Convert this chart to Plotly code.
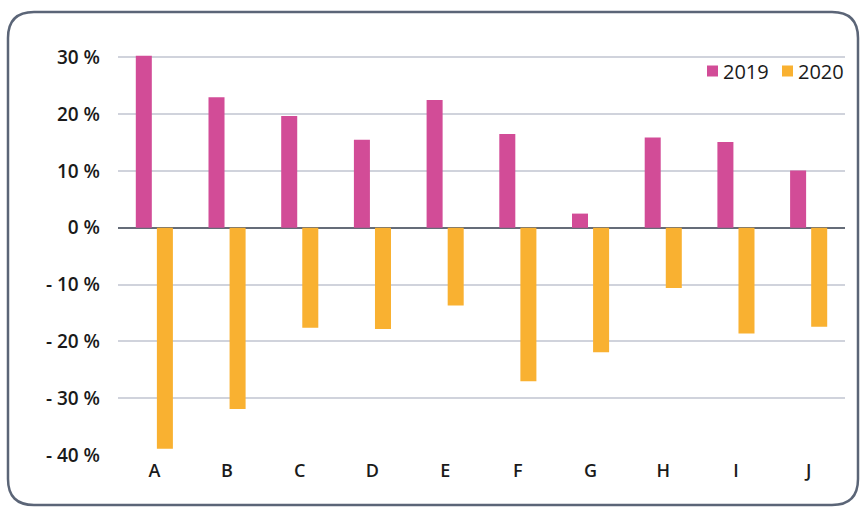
import plotly.graph_objects as go

# Annual change by category, in percent
categories = ["A", "B", "C", "D", "E", "F", "G", "H", "I", "J"]
change_2019 = [30.3, 23.0, 19.7, 15.5, 22.5, 16.5, 2.5, 15.9, 15.1, 10.1]
change_2020 = [-38.9, -31.9, -17.6, -17.8, -13.7, -27.0, -21.9, -10.6, -18.6, -17.4]
series_names = ["2019", "2020"]
series_colors = ["#d24c97", "#f9b131"]

tick_values = [30, 20, 10, 0, -10, -20, -30, -40]
tick_labels = ["30 %", "20 %", "10 %", "0 %", "- 10 %", "- 20 %", "- 30 %", "- 40 %"]

W, H = 864, 508
M_L, M_R, M_T, M_B = 118, 19, 54, 53
plot_w = W - M_L - M_R
plot_h = H - M_T - M_B


def px_to_paper(x, y):
    return (x - M_L) / plot_w, (H - M_B - y) / plot_h


def rounded_rect_path(x0, y0, x1, y1, r):
    pts = [
        ("M", [(x0 + r, y0)]),
        ("L", [(x1 - r, y0)]),
        ("Q", [(x1, y0), (x1, y0 + r)]),
        ("L", [(x1, y1 - r)]),
        ("Q", [(x1, y1), (x1 - r, y1)]),
        ("L", [(x0 + r, y1)]),
        ("Q", [(x0, y1), (x0, y1 - r)]),
        ("L", [(x0, y0 + r)]),
        ("Q", [(x0, y0), (x0 + r, y0)]),
    ]
    parts = []
    for cmd, coords in pts:
        s = " ".join("%.5f,%.5f" % px_to_paper(cx, cy) for cx, cy in coords)
        parts.append(cmd + " " + s)
    return " ".join(parts) + " Z"


fig = go.Figure()
for name, vals, col in zip(series_names, [change_2019, change_2020], series_colors):
    fig.add_trace(go.Bar(name=name, x=categories, y=vals, showlegend=False,
                         marker=dict(color=col, line=dict(width=0))))

# Compact legend: coloured square followed closely by the series name
shapes = [dict(
    type="path",
    xref="paper", yref="paper",
    path=rounded_rect_path(8, 12, 858, 505, 26),
    line=dict(color="#5b6577", width=2.5),
    fillcolor="rgba(0,0,0,0)",
    layer="above",
)]
annotations = []
legend_y = 71
for left, name, col in zip([707, 782], series_names, series_colors):
    sx0, sy0 = px_to_paper(left, legend_y + 5.5)
    sx1, sy1 = px_to_paper(left + 11, legend_y - 5.5)
    shapes.append(dict(type="rect", xref="paper", yref="paper",
                       x0=sx0, x1=sx1, y0=sy0, y1=sy1,
                       fillcolor=col, line=dict(width=0)))
    tx, ty = px_to_paper(left + 15, legend_y)
    annotations.append(dict(xref="paper", yref="paper", x=tx, y=ty,
                            xanchor="left", yanchor="middle", showarrow=False,
                            text=name, font=dict(size=20, color="#1a1a1a"),
                            borderpad=0))

fig.update_layout(
    width=W, height=H,
    margin=dict(l=M_L, r=M_R, t=M_T, b=M_B),
    paper_bgcolor="white",
    plot_bgcolor="white",
    barmode="group",
    bargap=0.42,
    bargroupgap=0.24,
    font=dict(family="Open Sans", color="#1a1a1a"),
    showlegend=False,
    xaxis=dict(
        showgrid=False,
        showline=False,
        ticks="",
        ticklabelstandoff=3,
        tickfont=dict(size=18, weight=600, color="#1a1a1a"),
    ),
    yaxis=dict(
        range=[-40, 30.6],
        tickvals=tick_values,
        ticktext=tick_labels,
        tickfont=dict(size=19, weight=600, color="#1a1a1a"),
        ticklabelstandoff=17,
        showgrid=True,
        gridcolor="#d0d3dc",
        gridwidth=1.5,
        zeroline=True,
        zerolinecolor="#656c78",
        zerolinewidth=2.2,
        showline=False,
        ticks="",
    ),
    shapes=shapes,
    annotations=annotations,
)

fig.write_html("out.html")
